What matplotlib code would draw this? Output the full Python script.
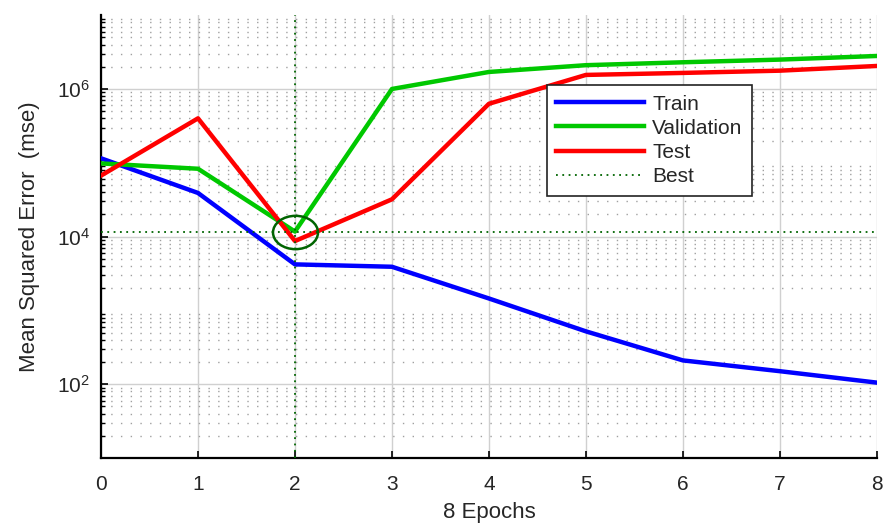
import matplotlib
matplotlib.use("Agg")
import matplotlib.pyplot as plt
from matplotlib.markers import MarkerStyle
from matplotlib.transforms import Affine2D
from matplotlib.ticker import LogLocator, NullFormatter

plt.rcParams['font.family'] = ['Liberation Sans', 'DejaVu Sans']
plt.rcParams['mathtext.fontset'] = 'custom'
plt.rcParams['mathtext.rm'] = 'Liberation Sans'
plt.rcParams['mathtext.it'] = 'Liberation Sans'

epochs = [0, 1, 2, 3, 4, 5, 6, 7, 8]
train = [1.15e5, 3.9e4, 4.2e3, 3.9e3, 1.45e3, 5.2e2, 2.1e2, 1.5e2, 1.05e2]
validation = [9.8e4, 8.3e4, 1.17e4, 1.0e6, 1.7e6, 2.1e6, 2.3e6, 2.5e6, 2.8e6]
test = [6.7e4, 4.0e5, 8.7e3, 3.2e4, 6.3e5, 1.55e6, 1.65e6, 1.77e6, 2.05e6]
best_epoch = 2
best_value = 1.17e4
x_label = "8 Epochs"
y_label = "Mean Squared Error  (mse)"

text_col = '#262626'
fig = plt.figure(figsize=(8.83, 5.23), dpi=100)
ax = fig.add_axes([0.1144, 0.1243, 0.8786, 0.8467])

ax.set_yscale('log')
ax.set_xlim(0, 8)
ax.set_ylim(1e1, 1e7)

ax.grid(True, which='major', color='#d0d0d0', linestyle='-', linewidth=1.0)
ax.yaxis.set_minor_locator(LogLocator(base=10, subs=range(2, 10), numticks=20))
ax.yaxis.set_minor_formatter(NullFormatter())
ax.grid(True, which='minor', axis='y', color='#a0a0a0', linestyle=(0, (1, 6)), linewidth=1.0)
ax.set_axisbelow(True)

ax.plot(epochs, train, color='#0000ff', lw=3.2, label='Train', zorder=3)
ax.plot(epochs, validation, color='#00c800', lw=3.2, label='Validation', zorder=3)
ax.plot(epochs, test, color='#ff0000', lw=3.2, label='Test', zorder=3)
ax.axvline(best_epoch, color='#006400', lw=1.3, ls=(0, (1, 2.5)), label='Best', zorder=4)
ax.axhline(best_value, color='#006400', lw=1.3, ls=(0, (1, 2.5)), zorder=4)
mk = MarkerStyle('o', transform=Affine2D().scale(1.35, 1.0))
ax.plot([best_epoch], [best_value], marker=mk, markersize=24, markerfacecolor='none',
        markeredgecolor='#006400', markeredgewidth=1.8, ls='none', zorder=5)

for s in ['top', 'right']:
    ax.spines[s].set_visible(False)
for s in ['left', 'bottom']:
    ax.spines[s].set_linewidth(1.6)
    ax.spines[s].set_color('black')

ax.tick_params(which='both', direction='in', colors='black', labelcolor=text_col,
               labelsize=15)
ax.tick_params(which='major', length=5, width=1.2)
ax.tick_params(which='minor', length=3, width=1.0)
ax.set_xticks(epochs)
ax.set_yticks([1e2, 1e4, 1e6])
ax.tick_params(axis='x', pad=12)
ax.tick_params(axis='y', pad=8)

ax.set_xlabel(x_label, fontsize=16, color=text_col, labelpad=6)
ax.set_ylabel(y_label, fontsize=16, color=text_col, labelpad=12)

leg = ax.legend(loc='upper left', bbox_to_anchor=(0.575, 0.842), borderaxespad=0,
                fontsize=15, frameon=True, fancybox=False, edgecolor='#222222',
                framealpha=1, handlelength=4.2, handletextpad=0.4, borderpad=0.45,
                labelspacing=0.25)
leg.get_frame().set_linewidth(1.2)
for t in leg.get_texts():
    t.set_color(text_col)

fig.savefig('out.png', dpi=100)
